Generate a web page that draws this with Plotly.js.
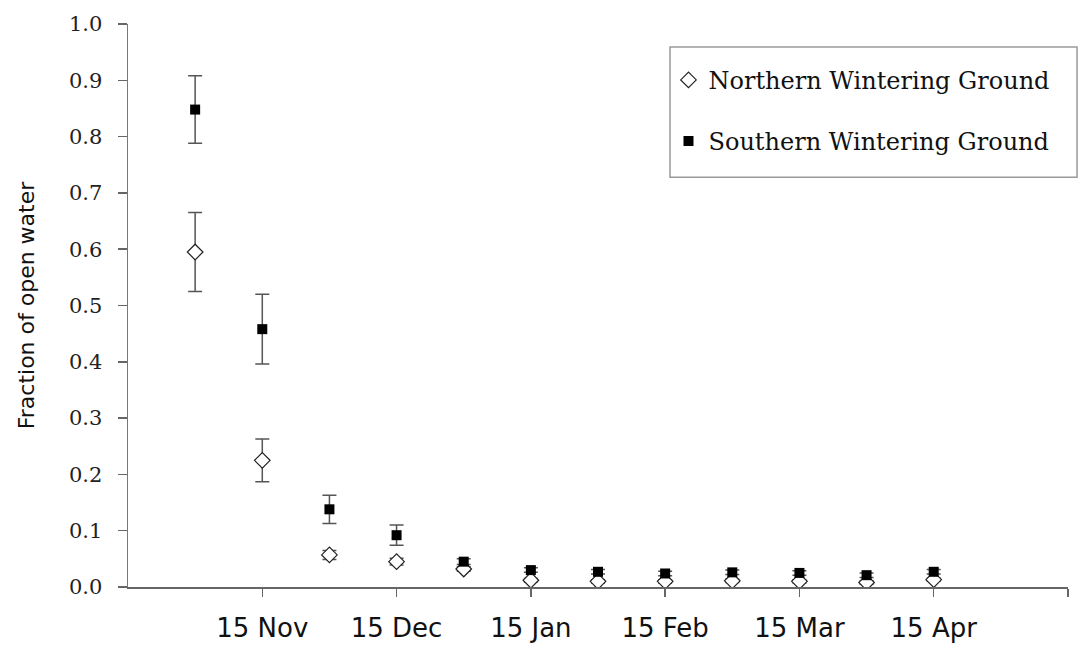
<!DOCTYPE html>
<html>
<head>
<meta charset="utf-8">
<script src="https://cdn.plot.ly/plotly-3.0.1.min.js"></script>
<style>html,body{margin:0;padding:0;background:#fff;}#chart{width:1080px;height:646px;}</style>
</head>
<body>
<div id="chart"></div>
<script>
// Sampling dates (half-monthly)
const periods = ['1 Nov','15 Nov','1 Dec','15 Dec','1 Jan','15 Jan','1 Feb','15 Feb','1 Mar','15 Mar','1 Apr','15 Apr'];
// Northern Wintering Ground: mean fraction of open water and error
const northern = [0.595, 0.225, 0.057, 0.045, 0.032, 0.012, 0.010, 0.010, 0.011, 0.010, 0.008, 0.013];
const northernErr = [0.070, 0.038, 0.008, 0.006, 0.004, 0.003, 0.003, 0.003, 0.003, 0.003, 0.003, 0.003];
// Southern Wintering Ground
const southern = [0.848, 0.458, 0.138, 0.092, 0.045, 0.030, 0.027, 0.024, 0.026, 0.025, 0.021, 0.027];
const southernErr = [0.060, 0.062, 0.025, 0.018, 0.005, 0.004, 0.004, 0.004, 0.004, 0.004, 0.004, 0.004];
// Labelled ticks
const tickLabels = ['15 Nov','15 Dec','15 Jan','15 Feb','15 Mar','15 Apr'];

// half-month position of each sampling date
const pos = p => (periods.indexOf(p) + 1) / 2;
const xs = periods.map(pos);
const tickVals = tickLabels.map(pos).concat([pos(periods[periods.length-1]) + 1]);
const tickText = tickLabels.concat(['']);

const errStyle = {color:'#555', thickness:1.5, width:7};

const traces = [
  {
    type:'scatter', mode:'markers', name:'Northern Wintering Ground', legendgroup:'n',
    x: xs, y: northern,
    error_y: Object.assign({type:'data', array: northernErr, visible:true}, errStyle),
    marker:{symbol:'diamond', size:12, color:'#fff', line:{color:'#222', width:1.2}}
  },
  {
    type:'scatter', mode:'markers', name:'Southern Wintering Ground', legendgroup:'s',
    x: xs, y: southern,
    error_y: Object.assign({type:'data', array: southernErr, visible:true}, errStyle),
    marker:{symbol:'square', size:10, color:'#000', line:{color:'#000', width:0}}
  }
];

const layout = {
  width:1080, height:646,
  paper_bgcolor:'#fff', plot_bgcolor:'#fff',
  margin:{l:128, r:12, t:24, b:59, pad:0},
  showlegend:true,
  legend:{
    x:0.575, y:0.94, xanchor:'left', yanchor:'top',
    borderwidth:0, bgcolor:'rgba(0,0,0,0)',
    font:{family:'DejaVu Serif', size:24, color:'#111'},
    traceorder:'grouped', tracegroupgap:27, itemwidth:30
  },
  shapes:[{
    type:'rect', xref:'paper', yref:'paper',
    x0:0.5766, x1:1.0096, y0:0.728, y1:0.959,
    line:{color:'#9a9a9a', width:1.5}, fillcolor:'rgba(0,0,0,0)', layer:'below'
  }],
  xaxis:{
    range:[0, 7], showgrid:false, zeroline:false, automargin:false,
    showline:true, linecolor:'#666', linewidth:2,
    tickmode:'array', tickvals:tickVals, ticktext:tickText,
    ticks:'outside', ticklen:8, tickwidth:1.5, tickcolor:'#666',
    ticklabelstandoff:9,
    tickfont:{family:'DejaVu Sans', size:26, color:'#111'}
  },
  yaxis:{
    range:[0, 1], showgrid:false, zeroline:false, automargin:false,
    showline:true, linecolor:'#777', linewidth:1.5,
    dtick:0.1, tick0:0, tickformat:'.1f',
    ticks:'outside', ticklen:9, tickwidth:1.5, tickcolor:'#666',
    ticklabelstandoff:11,
    tickfont:{family:'DejaVu Serif', size:21, color:'#222'},
    title:{text:'Fraction of open water', standoff:28, font:{family:'DejaVu Sans', size:22, color:'#111'}}
  }
};

Plotly.newPlot('chart', traces, layout, {displayModeBar:false, staticPlot:true});
</script>
</body>
</html>
